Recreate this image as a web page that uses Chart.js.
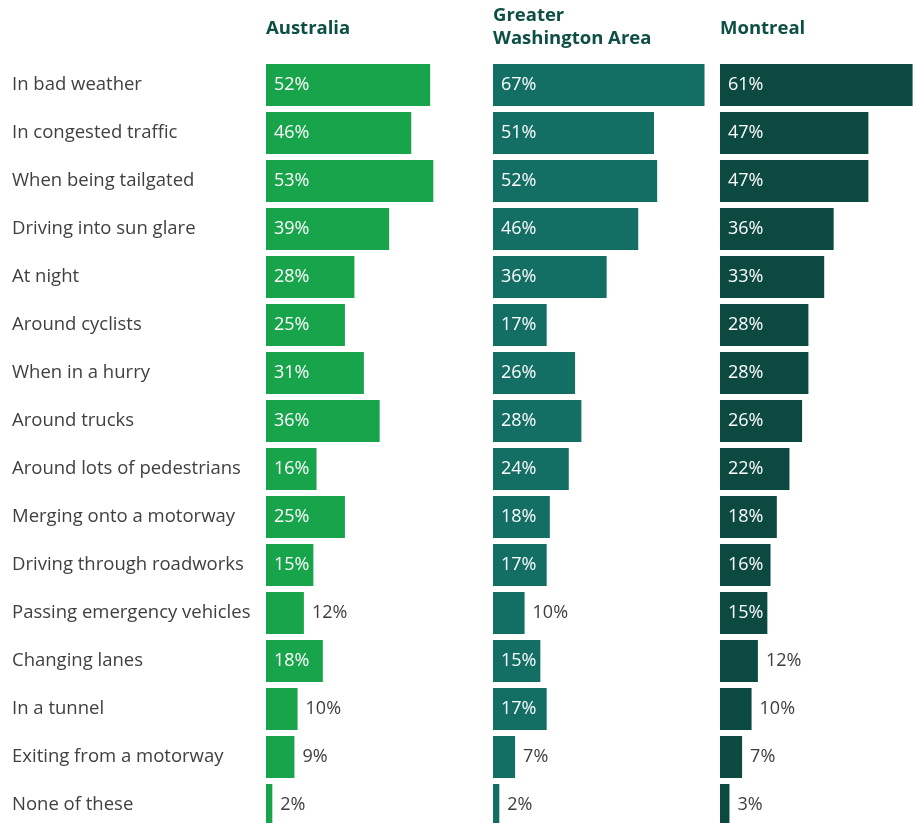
<!DOCTYPE html>
<html lang="en">
<head>
    <meta charset="UTF-8">
    <title>Driving situations</title>
    <script src="https://cdn.jsdelivr.net/npm/chart.js"></script>
    <style>
        html, body {
            margin: 0;
            padding: 0;
            background: #ffffff;
            overflow: hidden;
            width: 919px;
            height: 823px;
        }
        canvas {
            position: absolute;
            top: 0;
        }
    </style>
</head>
<body>
    <canvas id="chartAus" width="475" height="829" style="left: 12px;"></canvas>
    <canvas id="chartWash" width="221" height="829" style="left: 493px;"></canvas>
    <canvas id="chartMtl" width="221" height="829" style="left: 720px;"></canvas>

    <script>
        // Categorias e valores (%)
        const categories = [
            'In bad weather',
            'In congested traffic',
            'When being tailgated',
            'Driving into sun glare',
            'At night',
            'Around cyclists',
            'When in a hurry',
            'Around trucks',
            'Around lots of pedestrians',
            'Merging onto a motorway',
            'Driving through roadworks',
            'Passing emergency vehicles',
            'Changing lanes',
            'In a tunnel',
            'Exiting from a motorway',
            'None of these'
        ];
        const australia = [52, 46, 53, 39, 28, 25, 31, 36, 16, 25, 15, 12, 18, 10, 9, 2];
        const washington = [67, 51, 52, 46, 36, 17, 26, 28, 24, 18, 17, 10, 15, 17, 7, 2];
        const montreal = [61, 47, 47, 36, 33, 28, 28, 26, 22, 18, 16, 15, 12, 10, 7, 3];

        const headerAus = ['Australia'];
        const headerWash = ['Greater', 'Washington Area'];
        const headerMtl = ['Montreal'];

        const FONT = '"Open Sans", "Noto Sans", sans-serif';
        Chart.defaults.font.family = FONT;
        Chart.defaults.font.size = 18;
        Chart.defaults.color = '#404040';

        // Rótulos de valor: dentro da barra (branco) ou fora (cinza)
        const valueLabels = {
            id: 'valueLabels',
            afterDatasetsDraw(chart) {
                const ctx = chart.ctx;
                const data = chart.data.datasets[0].data;
                ctx.save();
                ctx.font = '18px ' + FONT;
                ctx.textBaseline = 'middle';
                ctx.textAlign = 'left';
                chart.getDatasetMeta(0).data.forEach((bar, i) => {
                    const v = data[i];
                    const text = v + '%';
                    if (v >= 15) {
                        ctx.fillStyle = '#ffffff';
                        ctx.fillText(text, bar.base + 8, bar.y);
                    } else {
                        ctx.fillStyle = '#3d3d3d';
                        ctx.fillText(text, bar.x + 8, bar.y);
                    }
                });
                ctx.restore();
            }
        };

        // Cabeçalho de cada painel
        const panelHeader = {
            id: 'panelHeader',
            afterDraw(chart, args, opts) {
                const ctx = chart.ctx;
                const lines = opts.lines || [];
                ctx.save();
                ctx.font = 'bold 18.5px ' + FONT;
                ctx.fillStyle = '#0e4f45';
                ctx.textBaseline = 'middle';
                ctx.textAlign = 'left';
                const x = chart.chartArea.left;
                if (lines.length === 1) {
                    ctx.fillText(lines[0], x, 29);
                } else {
                    lines.forEach((line, i) => ctx.fillText(line, x, 16 + i * 23));
                }
                ctx.restore();
            }
        };

        function makeChart(id, values, color, header, showLabels) {
            const ctx = document.getElementById(id).getContext('2d');
            return new Chart(ctx, {
                type: 'bar',
                data: {
                    labels: categories,
                    datasets: [{
                        data: values,
                        backgroundColor: color,
                        borderWidth: 0,
                        barPercentage: 1,
                        categoryPercentage: 0.875
                    }]
                },
                options: {
                    indexAxis: 'y',
                    responsive: false,
                    animation: false,
                    devicePixelRatio: 1,
                    layout: { padding: { top: 61, bottom: 0, left: 0, right: 0 } },
                    scales: {
                        x: {
                            display: false,
                            min: 0,
                            max: 70
                        },
                        y: {
                            display: showLabels,
                            grid: { display: false },
                            border: { display: false },
                            ticks: {
                                crossAlign: 'far',
                                color: '#404040',
                                font: { size: 18.5 }
                            },
                            afterFit(scale) {
                                if (!showLabels) return;
                                scale.width = 254;
                                scale.paddingTop = 0;
                                scale.paddingBottom = 0;
                            }
                        }
                    },
                    plugins: {
                        legend: { display: false },
                        tooltip: { enabled: false },
                        panelHeader: { lines: header }
                    }
                },
                plugins: [valueLabels, panelHeader]
            });
        }

        makeChart('chartAus', australia, '#17a44a', headerAus, true);
        makeChart('chartWash', washington, '#136e63', headerWash, false);
        makeChart('chartMtl', montreal, '#0c4a41', headerMtl, false);
    </script>
</body>
</html>
